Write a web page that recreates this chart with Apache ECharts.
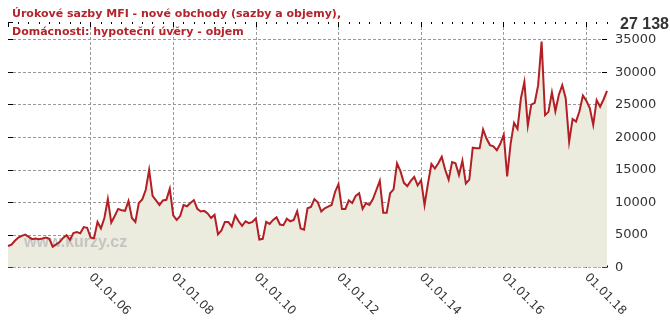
<!DOCTYPE html>
<html>
<head>
<meta charset="utf-8">
<script src="https://cdn.jsdelivr.net/npm/echarts@6/dist/echarts.min.js"></script>
<style>
  html, body { margin: 0; padding: 0; background: #fff; }
  #chart { width: 670px; height: 335px; }
</style>
</head>
<body>
<div id="chart"></div>
<script>
// Hypoteční úvěry domácnostem – nové obchody, objem (mil. Kč), měsíčně od 01/2004
const startYear = 2004;
const vol2004 = [3300, 3500, 4100, 4600, 4850, 5050, 4700, 4350, 4450, 4350, 4450, 4600];
const vol2005 = [4400, 3200, 3550, 3900, 4550, 4950, 4250, 5300, 5450, 5250, 6200, 6100];
const vol2006 = [4600, 4500, 7000, 6000, 7600, 10500, 6900, 7900, 9000, 8800, 8700, 10200];
const vol2007 = [7600, 7000, 9900, 10450, 11900, 15000, 11000, 10300, 9600, 10300, 10400, 12100];
const vol2008 = [8000, 7300, 7900, 9600, 9400, 9900, 10350, 9000, 8600, 8700, 8300, 7600];
const vol2009 = [8100, 5100, 5700, 7000, 7000, 6300, 8000, 7100, 6400, 7100, 6800, 7000];
const vol2010 = [7550, 4300, 4400, 7000, 6700, 7300, 7700, 6600, 6500, 7500, 7100, 7300];
const vol2011 = [8650, 6000, 5800, 9100, 9300, 10500, 10000, 8600, 9100, 9350, 9600, 11600];
const vol2012 = [12800, 9000, 9000, 10300, 9900, 11000, 11400, 9000, 9900, 9600, 10500, 11900];
const vol2013 = [13300, 8400, 8400, 11400, 12000, 16000, 14800, 13000, 12500, 13300, 13900, 12600];
const vol2014 = [13400, 9600, 12900, 15900, 15200, 16000, 17000, 15000, 13500, 16200, 16000, 14200];
const vol2015 = [16400, 12900, 13500, 18400, 18300, 18300, 21200, 19800, 18800, 18600, 18000, 19000];
const vol2016 = [20400, 14000, 19000, 22200, 21300, 26000, 28500, 21800, 25000, 25300, 28000, 34700];
const vol2017 = [23400, 23900, 26900, 24000, 26500, 28000, 26000, 19300, 22800, 22400, 24000, 26400];
const vol2018 = [25600, 24500, 21900, 25700, 24700, 25800, 27138];

const volumes = [].concat(vol2004, vol2005, vol2006, vol2007, vol2008, vol2009, vol2010,
  vol2011, vol2012, vol2013, vol2014, vol2015, vol2016, vol2017, vol2018);

const titleLines = [
  'Úrokové sazby MFI - nové obchody (sazby a objemy),',
  'Domácnosti: hypoteční úvěry - objem'
];
const yTicks = [0, 5000, 10000, 15000, 20000, 25000, 30000, 35000];

const pad2 = n => (n < 10 ? '0' : '') + n;
const months = volumes.map((_, k) =>
  '01.' + pad2(k % 12 + 1) + '.' + String(startYear + Math.floor(k / 12)).slice(2));

const isMajor = idx => idx % 24 === 0;
const isMajorLabel = idx => idx % 24 === 0 && idx > 0;
const isQuarter = idx => idx % 3 === 0;

const lastValue = volumes[volumes.length - 1];
const fmtThousands = v => String(v).replace(/\B(?=(\d{3})+(?!\d))/g, ' ');

const FONT = 'DejaVu Sans';
const tickStyle = { color: '#000', width: 1 };
const dash = { color: '#9a9a9a', type: [3, 2], width: 1 };

function xAxisDef(position, major) {
  return {
    type: 'category',
    position: position,
    data: months,
    boundaryGap: false,
    axisLine: { show: false },
    axisTick: {
      show: true, inside: true, length: major ? 5 : 2,
      interval: major ? (i) => isMajor(i) : (i) => isQuarter(i),
      lineStyle: tickStyle
    },
    axisLabel: (position === 'bottom' && major) ? {
      show: true, interval: (i) => isMajorLabel(i), rotate: -45, margin: 8,
      color: '#333', fontSize: 12, fontFamily: FONT
    } : { show: false },
    splitLine: (position === 'bottom' && major) ? {
      show: true, interval: (i) => isMajorLabel(i), lineStyle: dash
    } : { show: false }
  };
}

function yAxisDef(position, withLabels) {
  return {
    type: 'value',
    position: position,
    min: yTicks[0],
    max: 37700,
    interval: yTicks[1] - yTicks[0],
    axisLine: { show: false },
    axisTick: { show: true, inside: true, length: 5, lineStyle: tickStyle },
    axisLabel: withLabels ? {
      show: true, margin: 8, color: '#333', fontSize: 13, fontFamily: FONT,
      showMaxLabel: false,
      formatter: v => (yTicks.indexOf(v) >= 0 ? String(v) : '')
    } : { show: false },
    splitLine: withLabels ? { show: true, showMaxLine: false, lineStyle: dash } : { show: false }
  };
}

const chart = echarts.init(document.getElementById('chart'), null, { renderer: 'canvas' });
chart.setOption({
  animation: false,
  backgroundColor: '#fff',
  title: {
    text: titleLines.join('\n'),
    left: 7, top: 0,
    textStyle: {
      color: '#b3242b', fontSize: 11, fontWeight: 'bold', fontFamily: FONT, lineHeight: 18
    }
  },
  grid: { left: 8, right: 63, top: 22, bottom: 67.5, containLabel: false },
  xAxis: [
    xAxisDef('bottom', true),
    xAxisDef('bottom', false),
    xAxisDef('top', true),
    xAxisDef('top', false)
  ],
  yAxis: [
    yAxisDef('right', true),
    yAxisDef('left', false)
  ],
  graphic: [
    {
      type: 'text', left: 24, top: 235, z: 2, silent: true,
      style: {
        text: 'www.kurzy.cz', fill: '#c4c4c4',
        font: 'bold 16px "Liberation Sans"'
      }
    },
    {
      type: 'text', right: 1, top: 17, z: 5,
      style: {
        text: fmtThousands(lastValue), fill: '#333',
        font: 'bold 16px "Liberation Sans"'
      }
    }
  ],
  series: [
    {
      type: 'line', data: volumes, xAxisIndex: 0, yAxisIndex: 0, z: 1,
      showSymbol: false, silent: true,
      lineStyle: { width: 0, opacity: 0 },
      areaStyle: { color: '#ebecdd', opacity: 1 }
    },
    {
      type: 'line', data: volumes, xAxisIndex: 0, yAxisIndex: 0, z: 3,
      showSymbol: false, silent: true,
      lineStyle: { color: '#b21f25', width: 2, join: 'miter' }
    }
  ]
});
</script>
</body>
</html>
